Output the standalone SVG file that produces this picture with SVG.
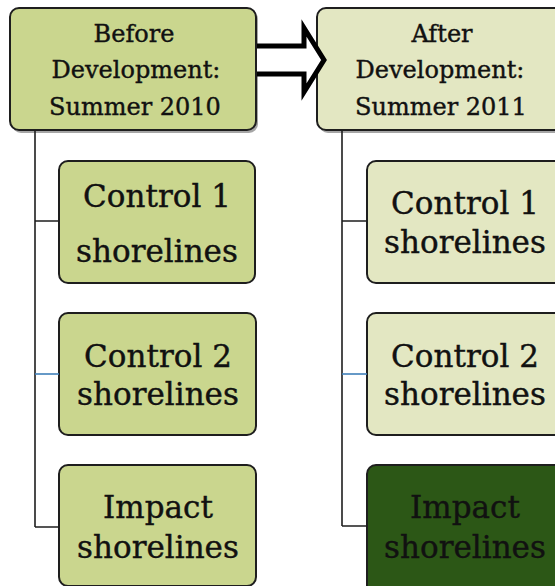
<svg xmlns="http://www.w3.org/2000/svg" width="555" height="586" viewBox="0 0 555 586">
<style>
.box{stroke:#1e1e1e;stroke-width:2}
.shadow{fill:#000;opacity:0.35}
.g1{fill:#cad68e}
.g2{fill:#e3e7c2}
.dk{fill:#2c5716}
.t{font-family:"DejaVu Serif","Liberation Serif",serif;fill:#111;stroke:#111;stroke-width:0.4;text-anchor:middle}
.h{font-size:24px}
.c{font-size:31px}
.ln{stroke:#1e1e1e;stroke-width:1.6;fill:none}
.bl{stroke:#3f7fb9;stroke-width:1.6;fill:none}
</style>
<rect width="555" height="586" fill="#fff"/>
<g id="before">
<rect class="shadow" x="12" y="10" width="246" height="123" rx="9"/>
<rect class="box g1" x="10" y="8" width="246" height="122" rx="9"/>
<text class="t h" x="134" y="42">Before</text>
<text class="t h" x="136" y="78">Development:</text>
<text class="t h" x="135" y="115">Summer 2010</text>
</g>
<g id="after">
<rect class="shadow" x="319" y="10" width="250" height="123" rx="9"/>
<rect class="box g2" x="317" y="8" width="250" height="122" rx="9"/>
<text class="t h" x="442" y="42">After</text>
<text class="t h" x="440" y="78">Development:</text>
<text class="t h" x="441" y="115">Summer 2011</text>
</g>
<g id="b-control1">
<rect class="box g1" x="59" y="161" width="196" height="122" rx="9"/>
<text class="t c" x="157" y="207">Control 1</text>
<text class="t c" x="157" y="262">shorelines</text>
</g>
<g id="b-control2">
<rect class="box g1" x="59" y="313" width="197" height="122" rx="9"/>
<text class="t c" x="158" y="367">Control 2</text>
<text class="t c" x="158" y="405">shorelines</text>
</g>
<g id="b-impact">
<rect class="box g1" x="59" y="465" width="197" height="121" rx="9"/>
<text class="t c" x="158" y="518">Impact</text>
<text class="t c" x="158" y="558">shorelines</text>
</g>
<g id="a-control1">
<rect class="box g2" x="367" y="161" width="200" height="122" rx="9"/>
<text class="t c" x="465" y="214">Control 1</text>
<text class="t c" x="465" y="253">shorelines</text>
</g>
<g id="a-control2">
<rect class="box g2" x="367" y="313" width="200" height="122" rx="9"/>
<text class="t c" x="465" y="367">Control 2</text>
<text class="t c" x="465" y="405">shorelines</text>
</g>
<g id="a-impact">
<rect class="box dk" x="367" y="465" width="200" height="130" rx="9"/>
<text class="t c" x="465" y="518">Impact</text>
<text class="t c" x="465" y="558">shorelines</text>
</g>
<g id="connectors">
<path d="M257,46 H304 V28 L324,60 L304,92 V74 H257" fill="#fff" stroke="#000" stroke-width="5" stroke-linejoin="miter"/>
<path class="ln" d="M35,130 V527 M35,221 H59 M35,527 H59"/>
<path class="bl" d="M35,374 H59"/>
<path class="ln" d="M342,130 V526 M342,221 H367 M342,526 H367"/>
<path class="bl" d="M342,374 H367"/>
</g>
</svg>
